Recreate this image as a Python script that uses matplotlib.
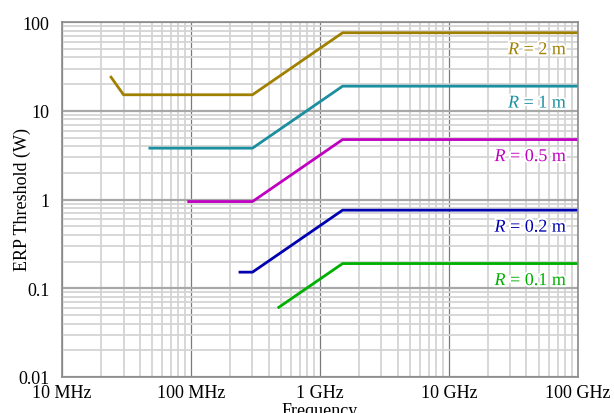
import numpy as np
import matplotlib.pyplot as plt
import matplotlib.patheffects as pe
from matplotlib.ticker import LogLocator, NullFormatter

plt.rcParams['font.family'] = ['Liberation Serif', 'DejaVu Serif']
plt.rcParams['mathtext.fontset'] = 'custom'
plt.rcParams['mathtext.it'] = 'Liberation Serif:italic'
plt.rcParams['mathtext.rm'] = 'Liberation Serif'

# frequency (Hz) and ERP threshold (W), one series per distance R
f_r2 = [24e6, 30e6, 300e6, 1.5e9, 100e9]
p_r2 = [24.0, 15.2, 15.2, 76.0, 76.0]
f_r1 = [48e6, 300e6, 1.5e9, 100e9]
p_r1 = [3.8, 3.8, 19.0, 19.0]
f_r05 = [96e6, 300e6, 1.5e9, 100e9]
p_r05 = [0.95, 0.95, 4.75, 4.75]
f_r02 = [240e6, 300e6, 1.5e9, 100e9]
p_r02 = [0.152, 0.152, 0.76, 0.76]
f_r01 = [480e6, 1.5e9, 100e9]
p_r01 = [0.061, 0.19, 0.19]

labels = ['$R$ = 2 m', '$R$ = 1 m', '$R$ = 0.5 m', '$R$ = 0.2 m', '$R$ = 0.1 m']
colors = ['#a08000', '#1a8fa0', '#c000c0', '#0000b0', '#00b000']
xticks = [1e7, 1e8, 1e9, 1e10, 1e11]
xticklabels = ['10 MHz', '100 MHz', '1 GHz', '10 GHz', '100 GHz']
yticks = [0.01, 0.1, 1, 10, 100]
yticklabels = ['0.01', '0.1', '1', '10', '100']

fig = plt.figure(figsize=(6.14, 4.14), dpi=100)
ax = fig.add_axes([0.101, 0.087, 0.84, 0.857])
ax.set_xscale('log')
ax.set_yscale('log')
ax.set_xlim(1e7, 1e11)
ax.set_ylim(0.01, 100)

# grid
ax.xaxis.set_minor_locator(LogLocator(base=10, subs=np.arange(2, 10)))
ax.yaxis.set_minor_locator(LogLocator(base=10, subs=np.arange(2, 10)))
ax.xaxis.set_minor_formatter(NullFormatter())
ax.yaxis.set_minor_formatter(NullFormatter())
ax.grid(which='minor', color='#d4d4d4', lw=1.3)
ax.grid(which='major', axis='x', color='#7a7a7a', lw=0.9)
ax.grid(which='major', axis='y', color='#a8a8a8', lw=1.6)
ax.set_axisbelow(True)

ax.set_xticks(xticks)
ax.set_xticklabels(xticklabels)
ax.set_yticks(yticks)
ax.set_yticklabels(yticklabels)
ax.tick_params(which='both', length=0, labelsize=13)
ax.tick_params(axis='x', pad=5)
ax.tick_params(axis='y', pad=9)
for s in ax.spines.values():
    s.set_color('#8a8a8a')
    s.set_linewidth(1.2)

series = [(f_r2, p_r2), (f_r1, p_r1), (f_r05, p_r05), (f_r02, p_r02), (f_r01, p_r01)]
for (f, p), lab, c in zip(series, labels, colors):
    ax.plot(f, p, color=c, lw=2)
    ax.text(0.98, p[-1] * 0.8, lab, transform=ax.get_yaxis_transform(),
            ha='right', va='top', fontsize=13, color=c,
            path_effects=[pe.withStroke(linewidth=3, foreground='white')])

ax.set_xlabel('Frequency', fontsize=13, labelpad=1)
fig.text(22 / 614, 1 - 200 / 414, 'ERP Threshold (W)', rotation=90,
         ha='center', va='center', fontsize=13)

fig.savefig('out.png', dpi=100)
